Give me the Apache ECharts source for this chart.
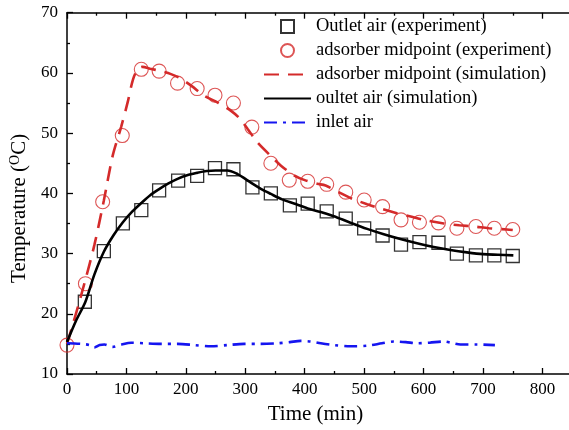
<!DOCTYPE html>
<html><head><meta charset="utf-8">
<script src="https://cdn.jsdelivr.net/npm/echarts@6/dist/echarts.min.js"></script>
<style>html,body{margin:0;padding:0;background:#fff;overflow:hidden;width:569px;height:430px}#c{width:620px;height:430px}</style>
</head><body><div id="c"></div>
<script>
// Experimental data
var outletExpTime = [30,62,94,125,155,187,219,249,280,312,343,375,405,437,469,500,531,562,593,625,656,688,719,750];
var outletExpTemp = [22,30.4,35,37.2,40.5,42.1,42.9,44.2,44,41,40,38,38.3,37,35.8,34.2,33,31.5,31.9,31.8,30,29.7,29.7,29.6];
var adsExpTime = [0,31,60,93,125,155,186,219,249,280,311,343,374,405,437,469,500,531,562,593,625,656,688,719,750];
var adsExpTemp = [14.8,25,38.6,49.6,60.6,60.3,58.3,57.4,56.3,55,51,45,42.2,42,41.5,40.2,38.9,37.8,35.6,35.2,35.1,34.2,34.5,34.2,34];
// Simulation
var adsSimTime = [0,15,30,46,62,77,91,102,111,119,127,140,158,175,189,210,231,255,276,290,304,320,343,360,382,400,421,435,455,480,505,530,555,580,605,634,660,684,710,740,750];
var adsSimTemp = [15,20,25.3,31.4,38.8,46.3,51,55.1,58.9,60.6,61,60.7,60.3,59.8,59.2,57.8,56.2,55,53.7,52.5,50.7,48.5,46.2,44.6,43,42.2,41.6,41.3,40.3,39.1,38.2,37.4,36.7,36.1,35.5,35,34.7,34.5,34.2,34,33.9];
var outSimTime = [0,15,31,46,62,78,94,110,125,140,155,170,186,202,219,235,250,270,287,300,312,327,343,362,382,405,427,449,475,505,533,561,589,617,645,673,700,725,751];
var outSimTemp = [15.3,18.8,22,26.5,30.3,33,35.2,37,38.4,39.7,40.7,41.6,42.4,43,43.4,43.7,43.8,43.8,43.2,42.4,41.6,40.7,39.9,39,38.3,37.5,36.9,36.2,35.2,34.1,33.2,32.4,31.7,31.1,30.6,30.2,29.9,29.8,29.7];
var inletTime = [0,24,38,46,55,63,77,92,108,130,158,186,215,242,270,298,325,354,375,393,410,427,450,477,505,530,550,570,589,610,634,650,662,690,720];
var inletTemp = [15.1,15.0,14.8,14.4,14.8,14.9,14.5,14.9,15.2,15.1,15.0,15.0,14.8,14.6,14.8,15.0,15.0,15.1,15.3,15.5,15.4,15.1,14.8,14.6,14.7,15.1,15.4,15.3,15.1,15.2,15.4,15.1,14.9,14.9,14.8];
var names = ['Outlet air (experiment)','adsorber midpoint (experiment)','adsorber midpoint (simulation)','oultet air (simulation)','inlet air'];
var xTicks = {min:0, max:900, interval:100};
var yTicks = {min:10, max:70, interval:10};

function zip(a,b){return a.map(function(v,i){return [v,b[i]];});}
var RED = '#d42a2a', BLUE = '#1515f0';
var font = 'Liberation Serif, Times New Roman, serif';
var chart = echarts.init(document.getElementById('c'), null, {renderer:'canvas'});
var axisCommon = {
  axisLine:{show:true, lineStyle:{color:'#000', width:1.5}},
  axisTick:{show:true, inside:true, length:6, lineStyle:{color:'#000', width:1.3}},
  minorTick:{show:true, splitNumber:2, length:3, lineStyle:{color:'#000', width:1.3}},
  splitLine:{show:false}
};
chart.setOption({
  animation:false,
  backgroundColor:'#fff',
  textStyle:{fontFamily:font},
  grid:{left:65.7, right:18.1, top:12.7, bottom:54, containLabel:false},
  legend:{
    orient:'vertical', left:258, top:12, itemWidth:47, itemHeight:13, itemGap:5,
    textStyle:{fontFamily:font, fontSize:18.5, color:'#000'},
    data:[
      {name:names[0], icon:'path://M0,0L10,0L10,10L0,10Z'},
      {name:names[1]},
      {name:names[2], itemStyle:{opacity:0}},
      {name:names[3], itemStyle:{opacity:0}},
      {name:names[4], itemStyle:{opacity:0}}
    ]
  },
  xAxis:[
    Object.assign({type:'value', position:'bottom', min:xTicks.min, max:xTicks.max, interval:xTicks.interval,
      name:'Time (min)', nameLocation:'middle', nameGap:30,
      nameTextStyle:{fontFamily:font, fontSize:21, color:'#000', padding:[0,38,0,0]},
      axisLabel:{fontFamily:font, fontSize:17, color:'#000', margin:7}}, axisCommon),
    Object.assign({type:'value', position:'top', min:xTicks.min, max:xTicks.max, interval:xTicks.interval,
      axisLabel:{show:false}}, axisCommon)
  ],
  yAxis:[
    Object.assign({type:'value', position:'left', min:yTicks.min, max:yTicks.max, interval:yTicks.interval,
      name:'{a|Temperature (}{s|O}{a|C)}', nameLocation:'middle', nameGap:37, nameRotate:90,
      nameTextStyle:{fontFamily:font, fontSize:21, color:'#000', padding:[0,30,0,0],
        rich:{a:{fontFamily:font, fontSize:21, color:'#000'}, s:{fontFamily:font, fontSize:14, color:'#000', verticalAlign:'top', padding:[0,0,8,0]}}},
      axisLabel:{fontFamily:font, fontSize:17, color:'#000', margin:9}}, axisCommon)
  ],
  series:[
    {name:names[0], type:'scatter', data:zip(outletExpTime,outletExpTemp), symbol:'rect', symbolSize:13,
      itemStyle:{color:'transparent', borderColor:'#000', borderWidth:1.3}, z:2},
    {name:names[1], type:'scatter', data:zip(adsExpTime,adsExpTemp), symbol:'circle', symbolSize:14,
      itemStyle:{color:'transparent', borderColor:RED, borderWidth:1.1}, z:2},
    {name:names[2], type:'line', data:zip(adsSimTime,adsSimTemp), symbol:'none', smooth:0.3,
      lineStyle:{color:RED, width:2.6, type:[15,9]}, itemStyle:{color:RED}, z:3},
    {name:names[3], type:'line', data:zip(outSimTime,outSimTemp), symbol:'none', smooth:0.3,
      lineStyle:{color:'#000', width:2.6}, itemStyle:{color:'#000'}, z:3},
    {name:names[4], type:'line', data:zip(inletTime,inletTemp), symbol:'none', smooth:0.3,
      lineStyle:{color:BLUE, width:2.6, type:[13,6,3,6]}, itemStyle:{color:BLUE}, z:3}
  ]
});
</script></body></html>
